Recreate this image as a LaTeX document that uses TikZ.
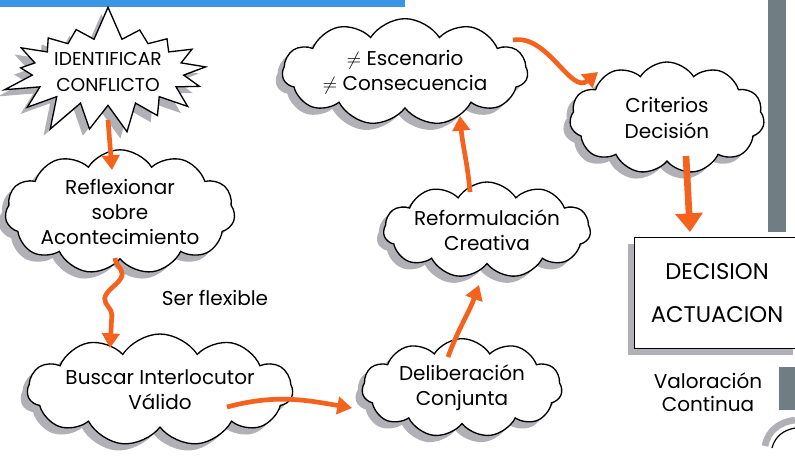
\documentclass[tikz,border=0pt]{standalone}
\usepackage{fontspec}
\setmainfont{Poppins}
\usetikzlibrary{shapes.symbols,shadows,decorations.pathmorphing,arrows.meta}

\definecolor{mkorange}{RGB}{244,98,30}
\definecolor{mkgray}{RGB}{176,176,182}
\definecolor{mkslate}{RGB}{112,126,132}
\definecolor{mkblue}{RGB}{58,150,228}

\begin{document}
\begin{tikzpicture}[x=0.75pt,y=0.75pt,yscale=-1,xscale=1,
  bubble/.style={cloud, cloud puffs=11, cloud puff arc=115, cloud ignores aspect,
    draw=black, line width=1pt, fill=white, align=center, inner sep=0pt,
    font=\fontsize{15}{19}\selectfont,
    general shadow={fill=mkgray, shadow xshift=-5pt, shadow yshift=-5pt}},
  flow/.style={draw=mkorange, line width=3.5pt, -{Triangle[length=11pt,width=13pt]}},
  ]
\useasboundingbox (0,0) rectangle (795,462);

%Blue band and slate bars
\fill[mkblue] (0,0) rectangle (405,7);
\fill[mkslate] (768,0) rectangle (786,232);
\fill[mkslate] (779,367) rectangle (795,410);
\draw[mkgray, line width=5pt] (765,446) .. controls (768,430) and (780,422) .. (795,420);
\draw[line width=0.9pt] (772,448) .. controls (775,436) and (784,430) .. (795,428);

%Burst
\node[starburst, starburst points=17, starburst point height=26pt, random starburst=7,
  draw=black, line width=1pt, fill=white, align=center, inner sep=0pt,
  minimum width=164pt, minimum height=102pt, font=\fontsize{14}{19}\selectfont,
  general shadow={fill=mkgray, shadow xshift=-5pt, shadow yshift=-5pt}]
  (idconf) at (108,72) {IDENTIFICAR\\CONFLICTO};

%Clouds
\node[bubble, minimum width=144pt, minimum height=74pt] (reflex) at (120,212) {Reflexionar\\sobre\\Acontecimiento};
\node[bubble, minimum width=192pt, minimum height=84pt] (buscar) at (160,390) {Buscar Interlocutor\\Válido};
\node[bubble, minimum width=150pt, minimum height=74pt] (delib) at (462,388) {Deliberación\\Conjunta};
\node[bubble, minimum width=150pt, minimum height=72pt] (reform) at (487,230) {Reformulación\\Creativa};
\node[bubble, minimum width=184pt, minimum height=80pt] (escen) at (405,72) {$\neq$ Escenario\\$\neq$ Consecuencia};
\node[bubble, minimum width=146pt, minimum height=84pt] (criter) at (667,118) {Criterios\\Decisión};

%Decision box
\node[draw=black, line width=1pt, fill=white, minimum width=124pt, minimum height=83pt,
  align=center, font=\fontsize{17}{32}\selectfont,
  general shadow={fill=mkgray, shadow xshift=-5pt, shadow yshift=-5pt}]
  (decis) at (717,293) {DECISION\\ACTUACION};

% Text Node
\node[font=\fontsize{15}{17}\selectfont] (flex) at (215,298) {Ser flexible};
% Text Node
\node[align=center, font=\fontsize{15}{17}\selectfont] (valor) at (708,392) {Valoración\\Continua};

%Arrows
\draw[flow] ([yshift=36]idconf.center) -- ([shift={(-8,-42)}]reflex.center);
\draw[flow, decorate, decoration={snake, amplitude=6pt, segment length=38pt, post length=10pt}]
  ([shift={(-5,46)}]reflex.center) -- ([shift={(-50,-42)}]buscar.center);
\draw[flow] ([shift={(67,17)}]buscar.center) to[out=-15,in=190] ([shift={(-110,20)}]delib.center);
\draw[flow] ([shift={(-14,-31)}]delib.center) to[out=-70,in=110] ([shift={(-8,55)}]reform.center);
\draw[flow] ([shift={(-17,-38)}]reform.center) to[out=-95,in=85] ([shift={(55,44)}]escen.center);
\draw[flow] ([shift={(108,-32)}]escen.center) to[out=-10,in=140] ([shift={(-69,-46)}]criter.center);
\draw[draw=mkorange, line width=5pt, -{Triangle[length=14pt,width=20pt]}] ([shift={(19,38)}]criter.center) -- ([shift={(-27,-61)}]decis.center);

\end{tikzpicture}
\end{document}
